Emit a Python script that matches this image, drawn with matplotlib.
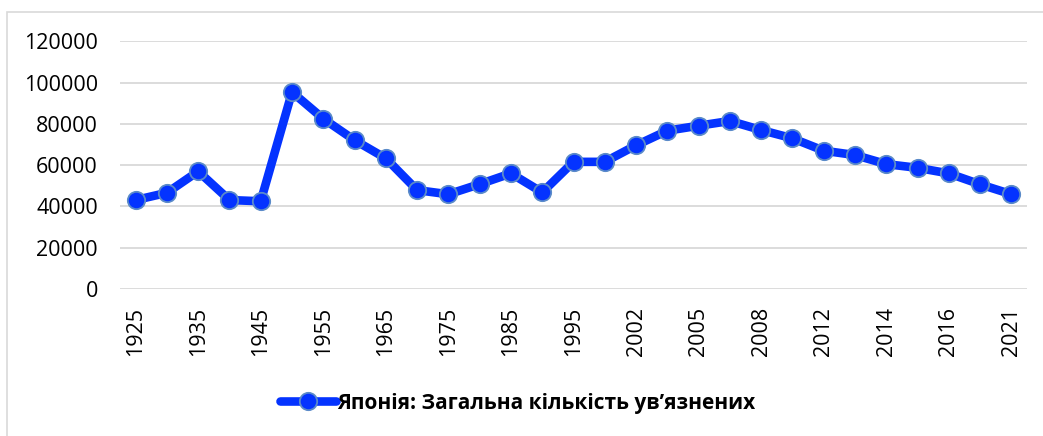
import matplotlib.pyplot as plt
from matplotlib.patches import Rectangle

# дані
years = ["1925", "1930", "1935", "1940", "1945", "1950", "1955", "1960", "1965", "1970",
         "1975", "1980", "1985", "1990", "1995", "2000", "2002", "2004", "2005", "2007",
         "2008", "2010", "2012", "2013", "2014", "2015", "2016", "2018", "2021"]
prisoners = [43100, 46600, 57000, 43100, 42500, 95400, 82500, 72100, 63300, 47900,
             45900, 50800, 56000, 46800, 61600, 61600, 69600, 76700, 79100, 81400,
             77000, 73000, 67000, 64900, 60500, 58700, 56000, 50700, 45900]
y_ticks = [0, 20000, 40000, 60000, 80000, 100000, 120000]
series_name = "Японія: Загальна кількість ув’язнених"

plt.rcParams['font.family'] = ['Open Sans', 'DejaVu Sans']

W, H = 1043, 436
fig = plt.figure(figsize=(W / 100, H / 100), dpi=100)
ax = fig.add_axes([120 / W, (H - 289) / H, (1027 - 120) / W, (289 - 41.3) / H])

x = list(range(len(years)))
ax.plot(x, prisoners, color="#0433FF", linewidth=6.2, marker="o", markersize=12.5,
        markerfacecolor="#0433FF", markeredgecolor="#5B8BC9", markeredgewidth=1.3,
        solid_capstyle="round", label=series_name, zorder=3)

ax.set_xlim(-0.5, len(years) - 0.5)
ax.set_ylim(0, 120000)
ax.set_yticks(y_ticks)
ax.set_yticklabels([str(v) for v in y_ticks], fontsize=15.5)
ax.set_xticks(x)
ax.set_xticklabels([y if i % 2 == 0 else "" for i, y in enumerate(years)],
                   rotation=90, fontsize=15.5)
ax.tick_params(length=0)
ax.tick_params(axis="y", pad=16)
ax.tick_params(axis="x", pad=13)
ax.grid(axis="y", color="#D9D9D9", linewidth=1.3)
ax.set_axisbelow(True)
for s in ax.spines.values():
    s.set_visible(False)

leg = fig.legend(loc="center", bbox_to_anchor=(518 / W, (H - 403) / H), frameon=False,
                 prop={"size": 15, "weight": "bold"}, handlelength=2.7, handletextpad=0.05)

# рамка діаграми
fig.patches.append(Rectangle((7 / W, -0.1), 1.2, (H - 12) / H + 0.1, transform=fig.transFigure,
                             fill=False, edgecolor="#D9D9D9", linewidth=1.2))

plt.savefig("out.png", dpi=100)
